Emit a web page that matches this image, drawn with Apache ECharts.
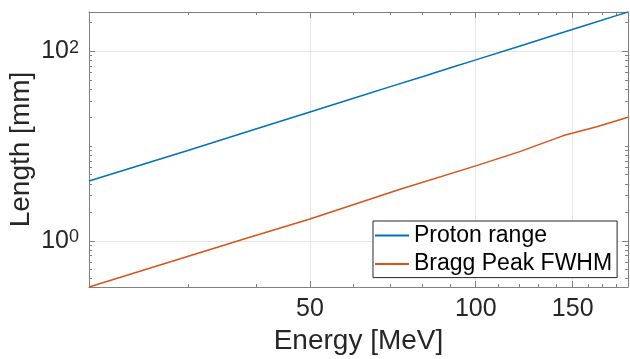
<!DOCTYPE html>
<html>
<head>
<meta charset="utf-8">
<script src="https://cdn.jsdelivr.net/npm/echarts@6/dist/echarts.min.js"></script>
<style>
html,body{margin:0;padding:0;background:#fff;}
#c{width:630px;height:359px;}
</style>
</head>
<body>
<div id="c"></div>
<script>
// ---- data ----
var seriesNames = ['Proton range', 'Bragg Peak FWHM'];
var rangeEnergy = [19.85, 30, 40, 50, 60, 70, 80, 90, 100, 120, 140, 160, 180, 189];
var rangeValue  = [4.28, 9.0, 15.2, 22.9, 31.9, 42.3, 53.9, 66.9, 81.0, 113, 150, 191, 237, 259];
var fwhmEnergy  = [19.85, 38.6, 50, 72.9, 100, 120.2, 144.3, 165.9, 189];
var fwhmValue   = [0.327, 1.083, 1.706, 3.51, 6.18, 8.74, 12.9, 16.0, 20.1];
var xMajorTicks = [50, 100, 150];
var xMinorTicks = [30, 40, 60, 70, 80, 90, 110, 120, 130, 140, 160, 170, 180];
var yMajorTicks = [1, 100];
var yMinorTicks = [0.4, 0.5, 0.6, 0.7, 0.8, 0.9, 2, 3, 4, 5, 6, 7, 8, 9, 10, 20, 30, 40, 50, 60, 70, 80, 90, 200];
var yTickExponents = {1: '0', 100: '2'};
var xRange = [19.85, 189];
var yRange = [0.327, 259];

var textColor = '#262626';
var axisColor = '#808080';
var gridColor = '#e6e6e6';
var FONT = '"Liberation Sans", Arial, Helvetica, sans-serif';

function pair(xs, ys){ return xs.map(function(x,i){ return [x, ys[i]]; }); }

function xAxisDef(pos, ticks, len, main){
  return {
    type: 'log', logBase: 10, position: pos, min: xRange[0], max: xRange[1],
    axisLine: {show: main, lineStyle: {color: axisColor, width: 1}},
    axisTick: {show: true, inside: true, length: len, customValues: ticks, lineStyle: {color: axisColor}},
    axisLabel: main && pos === 'bottom' ? {show: true, customValues: xMajorTicks, margin: 10, color: textColor, fontSize: 25, fontFamily: FONT} : {show: false},
    splitLine: {show: main && pos === 'bottom', lineStyle: {color: gridColor, width: 1}},
    minorTick: {show: false}, minorSplitLine: {show: false},
    name: main && pos === 'bottom' ? 'Energy [MeV]' : '',
    nameLocation: 'middle', nameGap: 40, nameMoveOverlap: false,
    nameTextStyle: {color: textColor, fontSize: 28, fontFamily: FONT}
  };
}
function yAxisDef(pos, ticks, len, main){
  return {
    type: 'log', logBase: 10, position: pos, min: yRange[0], max: yRange[1],
    axisLine: {show: main, lineStyle: {color: axisColor, width: 1}},
    axisTick: {show: true, inside: true, length: len, customValues: ticks, lineStyle: {color: axisColor}},
    axisLabel: main && pos === 'left' ? {
      show: true, customValues: yMajorTicks, margin: 10, color: textColor, fontFamily: FONT,
      formatter: function(v){ return '{b|10}{s|' + (yTickExponents[v] !== undefined ? yTickExponents[v] : '') + '}'; },
      rich: {
        b: {fontSize: 25, lineHeight: 25, padding: [9,0,0,0], verticalAlign: 'bottom', color: textColor, fontFamily: FONT},
        s: {fontSize: 18, lineHeight: 18, verticalAlign: 'top', color: textColor, fontFamily: FONT}
      }
    } : {show: false},
    splitLine: {show: main && pos === 'left', lineStyle: {color: gridColor, width: 1}},
    minorTick: {show: false}, minorSplitLine: {show: false},
    name: main && pos === 'left' ? 'Length [mm]' : '',
    nameLocation: 'middle', nameGap: 54, nameRotate: 90, nameMoveOverlap: false,
    nameTextStyle: {color: textColor, fontSize: 28, fontFamily: FONT}
  };
}

var chart = echarts.init(document.getElementById('c'), null, {renderer: 'canvas'});
chart.setOption({
  backgroundColor: '#ffffff',
  animation: false,
  grid: {left: 89, right: 2, top: 12, bottom: 72, containLabel: false, outerBoundsMode: 'none'},
  xAxis: [
    xAxisDef('bottom', xMajorTicks, 6, true),
    xAxisDef('bottom', xMinorTicks, 3, false),
    xAxisDef('top', xMajorTicks, 6, true),
    xAxisDef('top', xMinorTicks, 3, false)
  ],
  yAxis: [
    yAxisDef('left', yMajorTicks, 6, true),
    yAxisDef('left', yMinorTicks, 3, false),
    yAxisDef('right', yMajorTicks, 6, true),
    yAxisDef('right', yMinorTicks, 3, false)
  ],
  legend: {
    show: true, orient: 'vertical', left: 373, top: 221,
    data: seriesNames, icon: 'rect', itemWidth: 34, itemHeight: 2, itemGap: 5.6,
    padding: [3, 5, 2, 2],
    backgroundColor: '#ffffff', borderColor: '#262626', borderWidth: 1,
    textStyle: {color: '#000', fontSize: 23, lineHeight: 23, fontFamily: FONT}
  },
  series: [
    {name: seriesNames[0], type: 'line', xAxisIndex: 0, yAxisIndex: 0, data: pair(rangeEnergy, rangeValue),
     showSymbol: false, symbol: 'none', color: '#0072BD', lineStyle: {width: 1.5, color: '#0072BD'}},
    {name: seriesNames[1], type: 'line', xAxisIndex: 0, yAxisIndex: 0, data: pair(fwhmEnergy, fwhmValue),
     showSymbol: false, symbol: 'none', color: '#D95319', lineStyle: {width: 1.5, color: '#D95319'}}
  ]
});
</script>
</body>
</html>
